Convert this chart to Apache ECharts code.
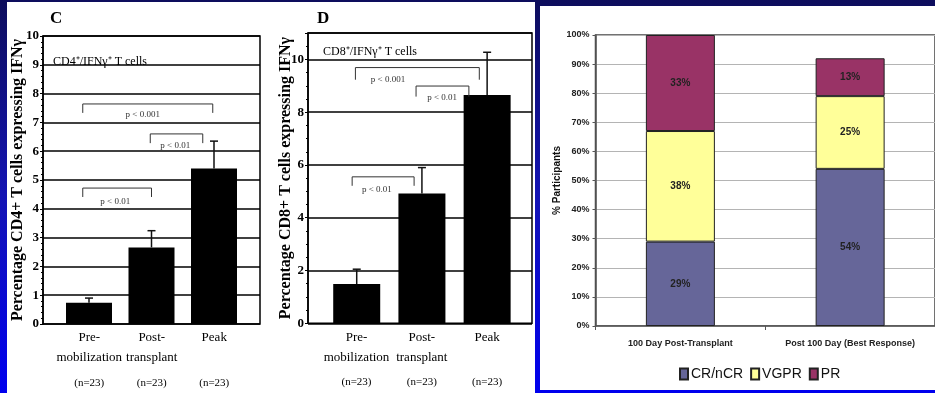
<!DOCTYPE html>
<html>
<head>
<meta charset="utf-8">
<script src="https://cdn.jsdelivr.net/npm/echarts@6/dist/echarts.min.js"></script>
<style>
html,body{margin:0;padding:0;}
#chart{width:935px;height:393px;}
</style>
</head>
<body>
<div id="chart"></div>
<script>
// ---------- DATA ----------
const tCellCategories = ['Pre-\nmobilization', 'Post-\ntransplant', 'Peak'];
const tCellN = ['(n=23)', '(n=23)', '(n=23)'];
const cd4Mean = [0.74, 2.66, 5.40];
const cd4ErrTop = [0.9, 3.24, 6.35];
const cd8Mean = [1.49, 4.92, 8.65];
const cd8ErrTop = [2.05, 5.9, 10.27];
// brackets: [x1, x2, yTop, yBottom, textX, textY]
const cd4Brackets = [[-0.1, 1.98, 7.64, 7.33, 0.86, 7.26], [0.98, 1.82, 6.6, 6.28, 1.38, 6.18], [-0.1, 1.0, 4.72, 4.41, 0.42, 4.24]];
const cd4BracketText = ['p < 0.001', 'p < 0.01', 'p < 0.01'];
const cd8Brackets = [[-0.02, 1.88, 9.69, 9.23, 0.48, 9.23], [0.91, 1.72, 8.99, 8.59, 1.31, 8.55], [-0.07, 0.88, 5.55, 5.21, 0.31, 5.06]];
const cd8BracketText = ['p < 0.001', 'p < 0.01', 'p < 0.01'];
const responseCategories = ['100 Day Post-Transplant', 'Post 100 Day (Best Response)'];
const crNcr = [29, 54];
const vgpr = [38, 25];
const pr = [33, 13];
const cd4Ticks = { min: 0, max: 10, interval: 1 };
const cd8Ticks = { min: 0, max: 11, interval: 2 };
const pctTicks = { min: 0, max: 100, interval: 10 };

// ---------- CHART ----------
const chart = echarts.init(document.getElementById('chart'));
const SERIF = 'Liberation Serif';
const SANS = 'Liberation Sans';

function catFormatter(v, i) {
  const lines = v.split('\n');
  if (lines.length < 2) lines.push(' ');
  return lines.map(l => '{a|' + l + '}').join('\n') + '\n{n|' + tCellN[i] + '}';
}
const catRich = {
  a: { fontFamily: SERIF, fontSize: 13, lineHeight: 20, color: '#000' },
  n: { fontFamily: SERIF, fontSize: 11, lineHeight: 30, color: '#000' }
};

function errRender(params, api) {
  const x = api.value(0), m = api.value(1), u = api.value(2);
  const p0 = api.coord([x, m]), p1 = api.coord([x, u]);
  return { type: 'group', children: [
    { type: 'line', shape: { x1: p0[0], y1: p0[1], x2: p1[0], y2: p1[1] }, style: { stroke: '#111', lineWidth: 1.5 } },
    { type: 'line', shape: { x1: p1[0] - 4, y1: p1[1], x2: p1[0] + 4, y2: p1[1] }, style: { stroke: '#111', lineWidth: 1.5 } }
  ]};
}
function bracketRender(texts) {
  return function (params, api) {
    const a = api.coord([api.value(0), api.value(2)]);
    const b = api.coord([api.value(1), api.value(2)]);
    const aB = api.coord([api.value(0), api.value(3)]);
    const bB = api.coord([api.value(1), api.value(3)]);
    const t = api.coord([api.value(4), api.value(5)]);
    return { type: 'group', children: [
      { type: 'polyline', shape: { points: [[aB[0], aB[1]], [a[0], a[1]], [b[0], b[1]], [bB[0], bB[1]]] }, style: { stroke: '#333', lineWidth: 1, fill: null } },
      { type: 'text', x: t[0], y: t[1], style: { text: texts[params.dataIndex], font: '9px ' + SERIF, fill: '#333', align: 'center', verticalAlign: 'middle' } }
    ]};
  };
}

const frameY = (ticks, nameText, gap, minorSplit, grid) => ({
  type: 'value', gridIndex: grid, min: ticks.min, max: ticks.max, interval: ticks.interval,
  name: nameText, nameLocation: 'middle', nameGap: gap, nameRotate: 90, nameMoveOverlap: false,
  nameTextStyle: { fontFamily: SERIF, fontWeight: 'bold', fontSize: 16, color: '#000' },
  axisLine: { show: true, onZero: false, lineStyle: { color: '#000', width: 1.5 } },
  axisTick: { show: true, length: 3, lineStyle: { color: '#000' } },
  minorTick: { show: true, splitNumber: minorSplit, length: 2, lineStyle: { color: '#000' } },
  splitLine: { show: true, lineStyle: { color: '#000', width: 1.5 } },
  axisLabel: { fontFamily: SERIF, fontWeight: 'bold', fontSize: 13, color: '#000', margin: 4,
    formatter: v => (v > 10 ? '' : String(v)) }
});

const option = {
  animation: false,
  backgroundColor: { type: 'linear', x: 0, y: 0, x2: 0, y2: 1,
    colorStops: [{ offset: 0, color: '#0d0d5c' }, { offset: 0.5, color: '#1414b4' }, { offset: 1, color: '#0000ee' }] },
  graphic: [
    { type: 'rect', z: -100, shape: { x: 7, y: 2, width: 528, height: 391 }, style: { fill: '#fff' } },
    { type: 'rect', z: -100, shape: { x: 540, y: 6, width: 395, height: 384 }, style: { fill: '#fff' } },
    { type: 'text', z: 100, x: 50, y: 19, style: { text: 'C', font: 'bold 17px ' + SERIF, fill: '#000', verticalAlign: 'middle' } },
    { type: 'text', z: 100, x: 317, y: 19, style: { text: 'D', font: 'bold 17px ' + SERIF, fill: '#000', verticalAlign: 'middle' } },
    { type: 'text', z: 100, x: 53, y: 62, style: { text: 'CD4⁺/IFNγ⁺ T cells', font: '12px ' + SERIF, fill: '#000', verticalAlign: 'middle' } },
    { type: 'text', z: 100, x: 323, y: 52, style: { text: 'CD8⁺/IFNγ⁺ T cells', font: '12px ' + SERIF, fill: '#000', verticalAlign: 'middle' } }
  ],
  grid: [
    { left: 43, top: 36, width: 217, height: 288, show: true, borderColor: '#000', borderWidth: 1.5, backgroundColor: 'transparent' },
    { left: 58, top: 36, width: 187.5, height: 288 },
    { left: 308, top: 33, width: 224, height: 290.3, show: true, borderColor: '#000', borderWidth: 1.5, backgroundColor: 'transparent' },
    { left: 323.85, top: 33, width: 195.9, height: 290.3 },
    { left: 595.5, top: 35, width: 342, height: 291, show: true, borderColor: '#444', borderWidth: 1.5, backgroundColor: 'transparent' }
  ],
  xAxis: [
    { type: 'value', gridIndex: 0, min: -0.736, max: 2.736, show: false },
    { type: 'category', gridIndex: 1, data: tCellCategories, axisLine: { show: false }, axisTick: { show: false },
      axisLabel: { formatter: catFormatter, rich: catRich, margin: 4, interval: 0 } },
    { type: 'value', gridIndex: 2, min: -0.747, max: 2.688, show: false },
    { type: 'category', gridIndex: 3, data: tCellCategories, axisLine: { show: false }, axisTick: { show: false },
      axisLabel: { formatter: catFormatter, rich: catRich, margin: 4, interval: 0 } },
    { type: 'category', gridIndex: 4, data: responseCategories,
      axisLine: { lineStyle: { color: '#555', width: 1.5 } }, axisTick: { show: true, length: 4, lineStyle: { color: '#555' } },
      axisLabel: { fontFamily: SANS, fontWeight: 'bold', fontSize: 9, color: '#222', margin: 13, interval: 0 } }
  ],
  yAxis: [
    frameY(cd4Ticks, 'Percentage CD4+ T cells expressing IFNγ', 17, 5, 0),
    { type: 'value', gridIndex: 1, min: cd4Ticks.min, max: cd4Ticks.max, show: false },
    frameY(cd8Ticks, 'Percentage CD8+ T cells expressing IFNγ', 14, 4, 2),
    { type: 'value', gridIndex: 3, min: cd8Ticks.min, max: cd8Ticks.max, show: false },
    { type: 'value', gridIndex: 4, min: pctTicks.min, max: pctTicks.max, interval: pctTicks.interval,
      name: '% Participants', nameLocation: 'middle', nameGap: 33, nameRotate: 90, nameMoveOverlap: false,
      nameTextStyle: { fontFamily: SANS, fontWeight: 'bold', fontSize: 10, color: '#111' },
      axisLine: { show: true, onZero: false, lineStyle: { color: '#555', width: 1.5 } },
      axisTick: { show: true, length: 3, lineStyle: { color: '#555' } },
      splitLine: { lineStyle: { color: '#b4b4b4', width: 1 } },
      axisLabel: { fontFamily: SANS, fontWeight: 'bold', fontSize: 9, color: '#222', margin: 6, formatter: '{value}%' } }
  ],
  legend: {
    data: ['CR/nCR', 'VGPR', 'PR'], left: 674, top: 362, icon: 'rect', itemWidth: 8, itemHeight: 11, itemGap: 7,
    textStyle: { fontFamily: SANS, fontSize: 14, color: '#111', padding: [0, 0, 0, -2] }
  },
  series: [
    { type: 'bar', xAxisIndex: 0, yAxisIndex: 0, data: cd4Mean.map((v, i) => [i, v]), barWidth: 46, itemStyle: { color: '#000' }, z: 3 },
    { type: 'custom', xAxisIndex: 0, yAxisIndex: 0, data: cd4Mean.map((v, i) => [i, v, cd4ErrTop[i]]), renderItem: errRender, z: 4 },
    { type: 'custom', xAxisIndex: 0, yAxisIndex: 0, data: cd4Brackets, renderItem: bracketRender(cd4BracketText), z: 4 },
    { type: 'bar', xAxisIndex: 2, yAxisIndex: 2, data: cd8Mean.map((v, i) => [i, v]), barWidth: 47, itemStyle: { color: '#000' }, z: 3 },
    { type: 'custom', xAxisIndex: 2, yAxisIndex: 2, data: cd8Mean.map((v, i) => [i, v, cd8ErrTop[i]]), renderItem: errRender, z: 4 },
    { type: 'custom', xAxisIndex: 2, yAxisIndex: 2, data: cd8Brackets, renderItem: bracketRender(cd8BracketText), z: 4 },
    { name: 'CR/nCR', type: 'bar', stack: 'r', xAxisIndex: 4, yAxisIndex: 4, data: crNcr, barWidth: 69,
      itemStyle: { color: '#666699', borderColor: '#222', borderWidth: 1 },
      label: { show: true, position: 'inside', formatter: '{c}%', fontFamily: SANS, fontWeight: 'bold', fontSize: 10, color: '#222' } },
    { name: 'VGPR', type: 'bar', stack: 'r', xAxisIndex: 4, yAxisIndex: 4, data: vgpr, barWidth: 69,
      itemStyle: { color: '#ffff99', borderColor: '#222', borderWidth: 1 },
      label: { show: true, position: 'inside', formatter: '{c}%', fontFamily: SANS, fontWeight: 'bold', fontSize: 10, color: '#222' } },
    { name: 'PR', type: 'bar', stack: 'r', xAxisIndex: 4, yAxisIndex: 4, data: pr, barWidth: 69,
      itemStyle: { color: '#993366', borderColor: '#222', borderWidth: 1 },
      label: { show: true, position: 'inside', formatter: '{c}%', fontFamily: SANS, fontWeight: 'bold', fontSize: 10, color: '#222' } }
  ]
};
chart.setOption(option);
</script>
</body>
</html>
